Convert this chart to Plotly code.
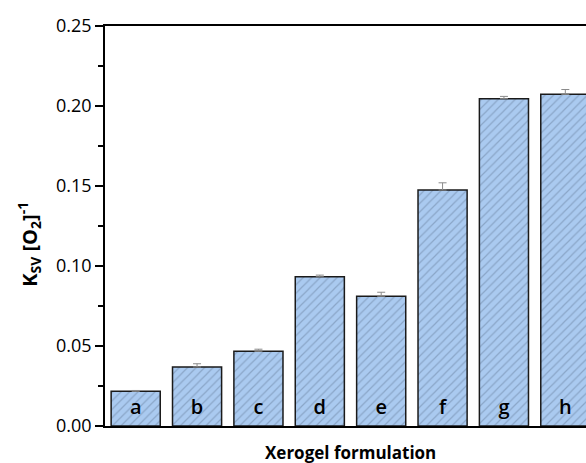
import plotly.graph_objects as go

# Stern-Volmer constants for each xerogel formulation
formulations = ["a", "b", "c", "d", "e", "f", "g", "h"]
ksv_values = [0.0217, 0.0369, 0.0467, 0.0933, 0.0811, 0.1475, 0.2046, 0.2073]
ksv_errors = [0.0005, 0.0020, 0.0013, 0.0010, 0.0025, 0.0045, 0.0014, 0.0030]

y_ticks = [0.00, 0.05, 0.10, 0.15, 0.20, 0.25]
y_tick_labels = ["0.00", "0.05", "0.10", "0.15", "0.20", "0.25"]

FONT = "Open Sans"
LABEL_LEVEL = 0.0105  # height at which the formulation letters sit inside the bars
positions = list(range(len(formulations)))

fig = go.Figure()
fig.add_trace(go.Bar(
    x=positions,
    y=ksv_values,
    width=0.8,
    marker=dict(
        color="#aacaf0",
        line=dict(color="#1a1a1a", width=1.5),
        pattern=dict(shape="/", fgcolor="#6a819f", bgcolor="#aacaf0",
                     size=6, solidity=0.2),
    ),
    error_y=dict(type="data", array=ksv_errors,
                 arrayminus=[0] * len(ksv_errors),
                 color="#8a8a8a", thickness=1, width=4),
    showlegend=False,
))

# formulation letters near the base of each bar
fig.add_trace(go.Scatter(
    x=positions,
    y=[LABEL_LEVEL] * len(formulations),
    mode="text",
    text=formulations,
    textposition="middle center",
    textfont=dict(family=FONT, size=20, color="black", weight=600),
    showlegend=False,
    hoverinfo="skip",
))

fig.update_layout(
    width=586, height=463,
    margin=dict(l=105, r=0, t=26, b=37),
    plot_bgcolor="white", paper_bgcolor="white",
    font=dict(family=FONT, size=18, color="black"),
    xaxis=dict(
        range=[-0.5, 7.337],
        showticklabels=False, ticks="",
        showgrid=False, zeroline=False,
        showline=True, linecolor="black", linewidth=1.5,
        mirror=True,
    ),
    yaxis=dict(
        range=[0, 0.25],
        tickvals=y_ticks, ticktext=y_tick_labels,
        ticks="outside", ticklen=8, tickwidth=1.5, tickcolor="black",
        minor=dict(dtick=0.025, tick0=0, ticks="outside", ticklen=5,
                   tickwidth=1.5, tickcolor="black", showgrid=False),
        showgrid=False, zeroline=False,
        showline=True, linecolor="black", linewidth=1.5,
        tickfont=dict(family=FONT, size=18),
    ),
    annotations=[
        dict(text="<b>Xerogel formulation</b>", xref="paper", yref="paper",
             x=0.51, y=0, yshift=-26, showarrow=False,
             xanchor="center", yanchor="middle",
             font=dict(family=FONT, size=17)),
        dict(text="<b>K<sub>SV</sub> [O<sub>2</sub>]<sup>-1</sup></b>",
             xref="paper", yref="paper", x=0, xshift=-76, y=0.453,
             showarrow=False, textangle=-90,
             xanchor="center", yanchor="middle",
             font=dict(family=FONT, size=20)),
    ],
)

fig.write_html("out.html")
